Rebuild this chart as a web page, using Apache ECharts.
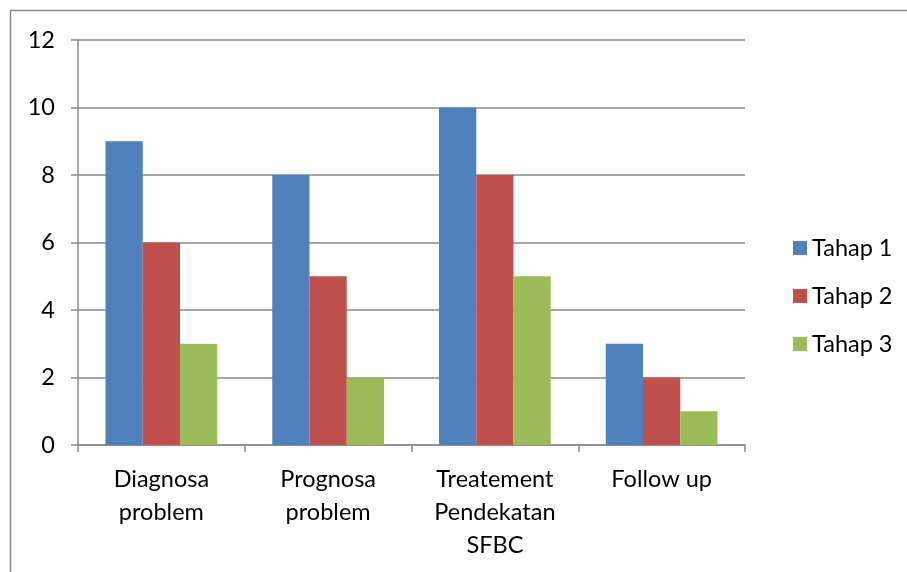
<!DOCTYPE html>
<html><head><meta charset="utf-8">
<script src="https://cdn.jsdelivr.net/npm/echarts@6/dist/echarts.min.js"></script>
<style>html,body{margin:0;padding:0;background:#fff}#c{width:907px;height:572px}</style>
</head><body><div id="c"></div>
<script>
const categories = ['Diagnosa\nproblem', 'Prognosa\nproblem', 'Treatement\nPendekatan\nSFBC', 'Follow up'];
const tahap1 = [9, 8, 10, 3];
const tahap2 = [6, 5, 8, 2];
const tahap3 = [3, 2, 5, 1];
const seriesNames = ['Tahap 1', 'Tahap 2', 'Tahap 3'];
const colors = ['#4F81BD', '#C0504D', '#9BBB59'];
const FONT = 'Lato';
const FS = 23.5;
const chart = echarts.init(document.getElementById('c'));
const gridColor = '#8a8a8a';
chart.setOption({
  animation: false,
  textStyle: { fontFamily: FONT },
  graphic: [{ type: 'rect', shape: { x: 10.5, y: 10.5, width: 1000, height: 1000 }, style: { fill: 'none', stroke: '#8a8a8a', lineWidth: 1.5 }, silent: true }],
  grid: { left: 78, right: 162, top: 40, bottom: 127 },
  legend: {
    orient: 'vertical', left: 788, top: 231, itemWidth: 14, itemHeight: 14, itemGap: 24,
    icon: 'rect',
    textStyle: { fontFamily: FONT, fontSize: FS, color: '#000' },
    data: seriesNames
  },
  xAxis: {
    type: 'category', data: categories,
    axisLine: { lineStyle: { color: gridColor, width: 1.5 } },
    axisTick: { show: true, length: 7, lineStyle: { color: gridColor, width: 1.5 } },
    axisLabel: { fontFamily: FONT, fontSize: FS, color: '#000', margin: 18, lineHeight: 33, interval: 0 }
  },
  yAxis: {
    type: 'value', min: 0, max: 12, interval: 2,
    axisLine: { show: true, lineStyle: { color: gridColor, width: 1.5 } },
    axisTick: { show: true, length: 7, lineStyle: { color: gridColor, width: 1.5 } },
    splitLine: { lineStyle: { color: gridColor, width: 1.5 } },
    axisLabel: { fontFamily: FONT, fontSize: FS, color: '#000', margin: 23 }
  },
  series: [tahap1, tahap2, tahap3].map((d, i) => ({
    name: seriesNames[i], type: 'bar', data: d,
    itemStyle: { color: colors[i] },
    barGap: '0%', barCategoryGap: '33%'
  }))
});
</script></body></html>
